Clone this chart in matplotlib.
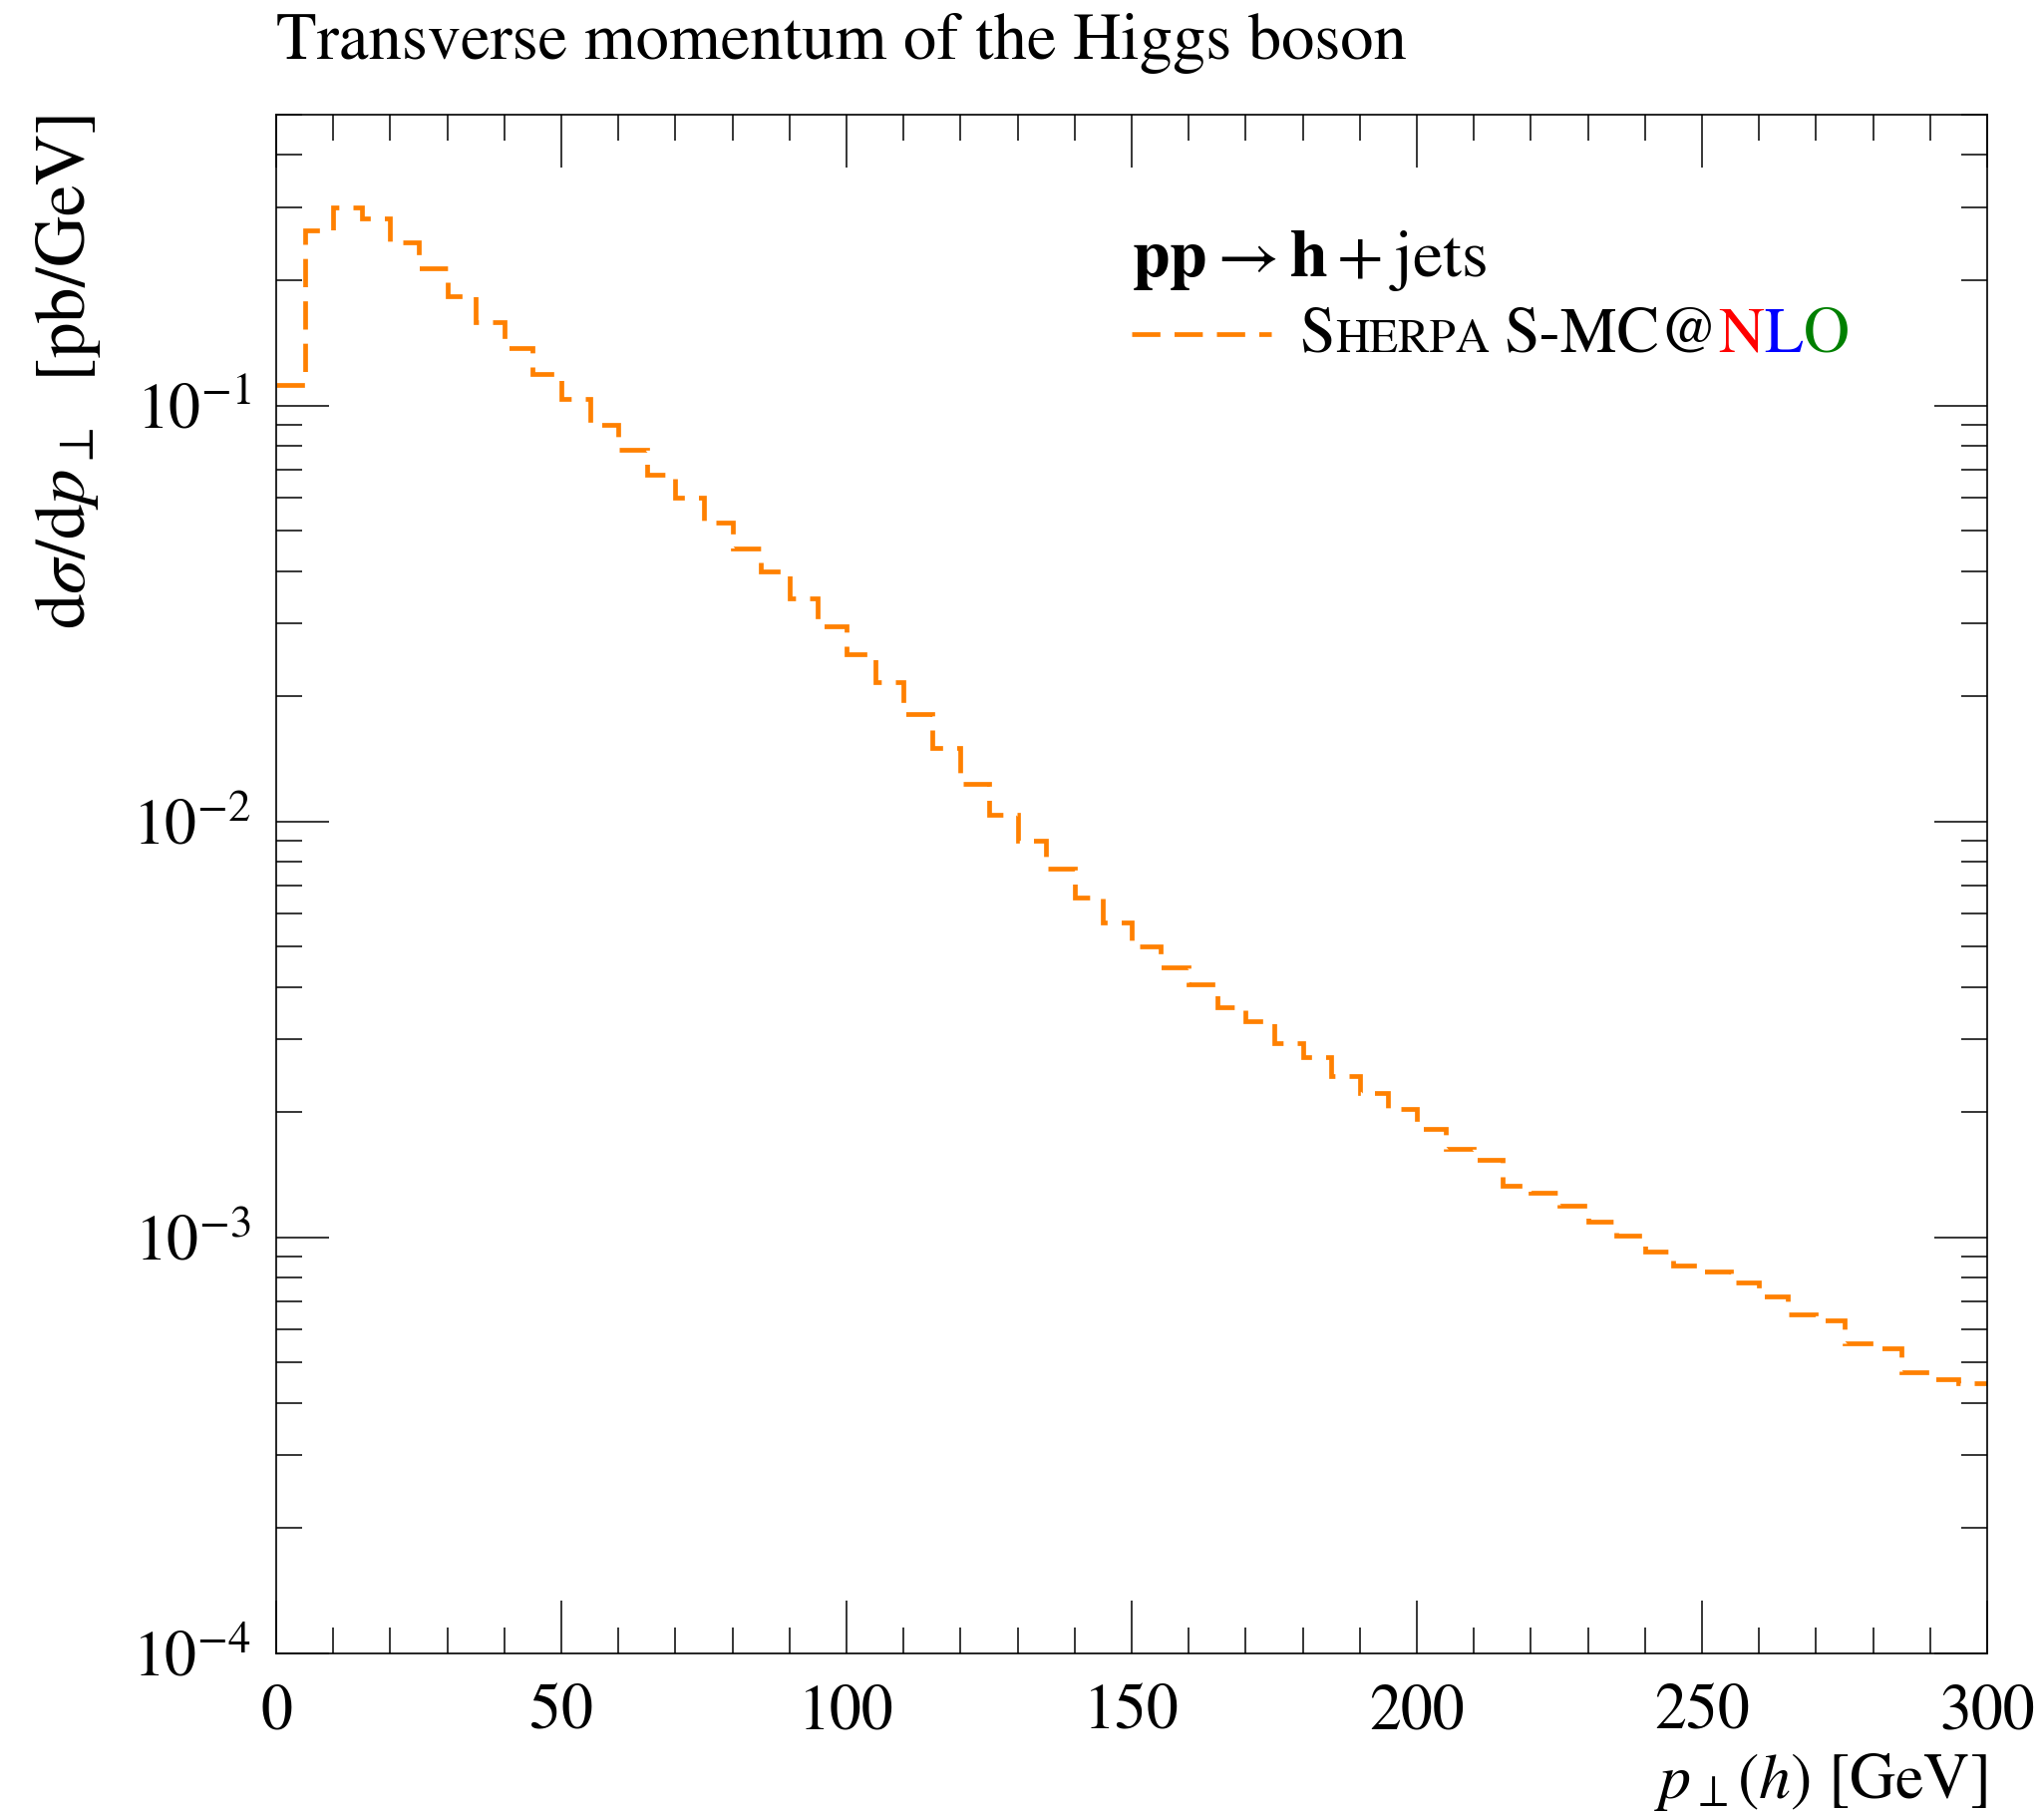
import numpy as np
import matplotlib.pyplot as plt
from matplotlib.ticker import MultipleLocator, LogLocator, NullFormatter

plt.rcParams['font.family'] = 'STIXGeneral'
plt.rcParams['mathtext.fontset'] = 'stix'

# p_T(h) histogram, 5 GeV bins from 0 to 300
bin_edges = np.arange(0, 305, 5)
dsigma = [
    0.112, 0.264, 0.300, 0.282, 0.247, 0.214, 0.1835, 0.159, 0.1375, 0.1187,
    0.1038, 0.0899, 0.0783, 0.0683, 0.0600, 0.0523, 0.0452, 0.0400, 0.0344, 0.0294,
    0.0253, 0.0216, 0.0181, 0.0150, 0.0123, 0.01035, 0.00897, 0.00771, 0.00658, 0.00573,
    0.00500, 0.00445, 0.00407, 0.00358, 0.00331, 0.00293, 0.00272, 0.00245, 0.00222, 0.00204,
    0.00182, 0.00163, 0.00154, 0.00133, 0.00128, 0.00119, 0.00109, 0.00101, 0.000924, 0.000854,
    0.000826, 0.000781, 0.000723, 0.000652, 0.000633, 0.000556, 0.000540, 0.000473, 0.000456, 0.000446,
]

orange = '#ff8000'

fig = plt.figure(figsize=(20.5, 18.19), dpi=100)
ax = fig.add_axes([0.1351, 0.0885, 0.8371, 0.8483])

ax.stairs(dsigma, bin_edges, baseline=None, color=orange, lw=3.4,
          linestyle=(0, (6, 3)))

ax.set_yscale('log')
ax.set_xlim(0, 300)
ax.set_ylim(1e-4, 0.5)
ax.xaxis.set_major_locator(MultipleLocator(50))
ax.xaxis.set_minor_locator(MultipleLocator(10))
ax.yaxis.set_major_locator(LogLocator(base=10, numticks=10))
ax.yaxis.set_minor_locator(LogLocator(base=10, subs=np.arange(2, 10), numticks=20))
ax.yaxis.set_minor_formatter(NullFormatter())

ax.tick_params(which='both', direction='in', top=True, right=True, width=1.1)
ax.tick_params(which='major', length=38, labelsize=46)
ax.tick_params(which='minor', length=19)
ax.tick_params(axis='x', which='major', pad=22)
ax.tick_params(axis='y', which='major', pad=18)
for sp in ax.spines.values():
    sp.set_linewidth(1.2)

ax.set_title('Transverse momentum of the Higgs boson', loc='left', fontsize=48, pad=40)
ax.set_xlabel(r'$p_\perp(h)$ [GeV]', fontsize=46, loc='right', labelpad=6)
ax.set_ylabel(r'$\mathrm{d}\sigma/\mathrm{d}p_\perp$  [pb/GeV]', fontsize=51, loc='top', labelpad=22)

# legend
ax.text(0.5, 0.895, r'$\mathbf{pp}\rightarrow\mathbf{h}+\mathrm{jets}$', fontsize=49,
        transform=ax.transAxes, va='baseline', ha='left')
ax.plot([0.5, 0.5815], [0.8576, 0.8576], transform=ax.transAxes, color=orange,
        lw=3.4, linestyle=(0, (6, 3)))

fig.canvas.draw()
rend = fig.canvas.get_renderer()
inv = ax.transAxes.inverted()
x = 0.598
y = 0.846
pieces = [('S', 46, 'black', 0), ('HERPA', 34, 'black', 15),
          ('S-MC@', 46, 'black', 0), ('N', 46, 'red', 0),
          ('L', 46, 'blue', 0), ('O', 46, 'green', 0)]
for s, size, col, gap in pieces:
    t = ax.text(x, y, s, fontsize=size, color=col, transform=ax.transAxes,
                va='baseline', ha='left')
    bb = t.get_window_extent(renderer=rend)
    x = inv.transform((bb.x1 + gap, bb.y0))[0]

fig.savefig('out.png', dpi=100)
